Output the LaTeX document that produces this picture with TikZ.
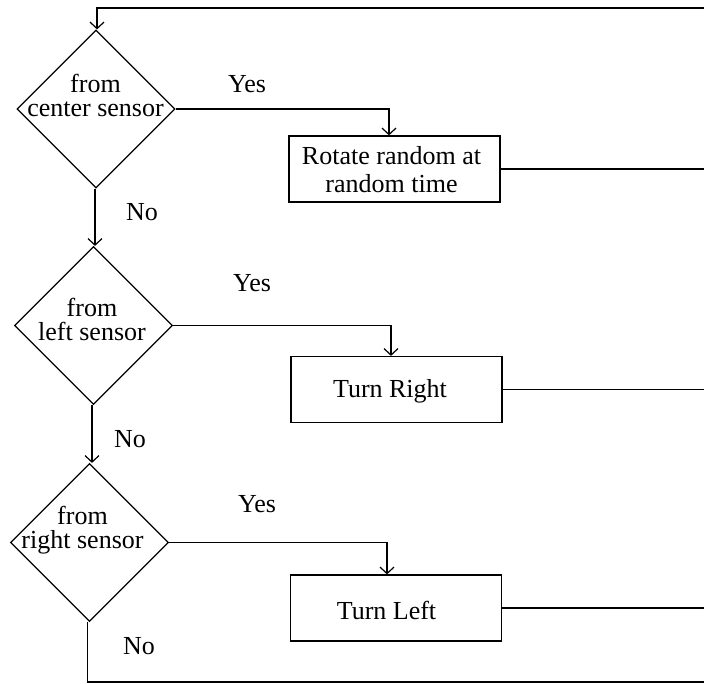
\documentclass[tikz,border=0pt]{standalone}
\usepackage{fontspec}
\setmainfont{Liberation Serif}
\usetikzlibrary{shapes.geometric,arrows.meta}

\tikzset{
  line/.style={line width=1.2pt, draw=black},
  flow/.style={line, -{Straight Barb[length=6.5pt,width=14pt]}},
  decision/.style={shape=diamond, line, aspect=1, inner sep=0pt,
                   minimum width=158pt, minimum height=158pt},
  action/.style={shape=rectangle, line, inner sep=0pt,
                 minimum width=211pt, minimum height=66pt},
  dtext/.style={align=center, inner sep=0pt,
                font=\fontsize{26}{24}\selectfont},
  btext/.style={align=center, inner sep=0pt,
                font=\fontsize{26}{28}\selectfont},
  answer/.style={anchor=base, inner sep=0pt, font=\fontsize{26}{28}\selectfont}
}

\begin{document}
\begin{tikzpicture}[x=1pt, y=-1pt]
  \useasboundingbox[fill=white] (0,0) rectangle (704,684);
  \clip (0,0) rectangle (704,684);

  % decisions
  \node[decision] (d1) at (96,109) {};
  \node[decision] (d2) at (93.5,325.5) {};
  \node[decision] (d3) at (89.5,542.5) {};
  \node[dtext] (t1) at ([xshift=-0.5pt,yshift=13.5pt]d1.center) {from\\center sensor};
  \node[dtext] (t2) at ([xshift=-1.5pt,yshift=6pt]d2.center) {from\\left sensor};
  \node[dtext] (t3) at ([xshift=-7pt,yshift=12.5pt]d3.center) {from\\right sensor};

  % actions
  \node[action] (b1) at (394.5,169) {};
  \node[action] (b2) at (396.5,389.5) {};
  \node[action] (b3) at (396,608) {};
  \node[btext] (u1) at ([xshift=-3pt,yshift=-1pt]b1.center) {Rotate random at\\random time};
  \node[btext] (u2) at ([xshift=-6.5pt,yshift=-2pt]b2.center) {Turn Right};
  \node[btext] (u3) at ([xshift=-9.5pt,yshift=-2pt]b3.center) {Turn Left};

  % loop-back rail along the right side
  \coordinate (rt) at (707,8);
  \coordinate (rb) at (707,682);

  % yes branches
  \draw[flow] (d1.east) -| ([xshift=-5.5pt]b1.north);
  \draw[flow] (d2.east) -| ([xshift=-5.5pt]b2.north);
  \draw[flow] (d3.east) -| ([xshift=-9pt]b3.north);

  % no branches, kept vertical
  \draw[flow] ([xshift=-1pt]d1.south) -- ([xshift=-1pt]d1.south |- d2.north);
  \draw[flow] ([xshift=-1.5pt]d2.south) -- ([xshift=-1.5pt]d2.south |- d3.north);
  \draw[line] ([xshift=-2pt]d3.south) |- (rb);

  % returns to the first test
  \draw[line] (b1.east) -- (b1.east -| rt);
  \draw[line] (b2.east) -- (b2.east -| rt);
  \draw[line] (b3.east) -- (b3.east -| rt);
  \draw[line] (rb) -- (rt);
  \draw[flow] (rt) -| ([xshift=1pt]d1.north);

  % branch labels
  \node[answer] (y1) at (247,93) {Yes};
  \node[answer] (y2) at (252,292) {Yes};
  \node[answer] (y3) at (257,512) {Yes};
  \node[answer] (n1) at (142,221) {No};
  \node[answer] (n2) at (130,447) {No};
  \node[answer] (n3) at (139,654) {No};
\end{tikzpicture}
\end{document}
